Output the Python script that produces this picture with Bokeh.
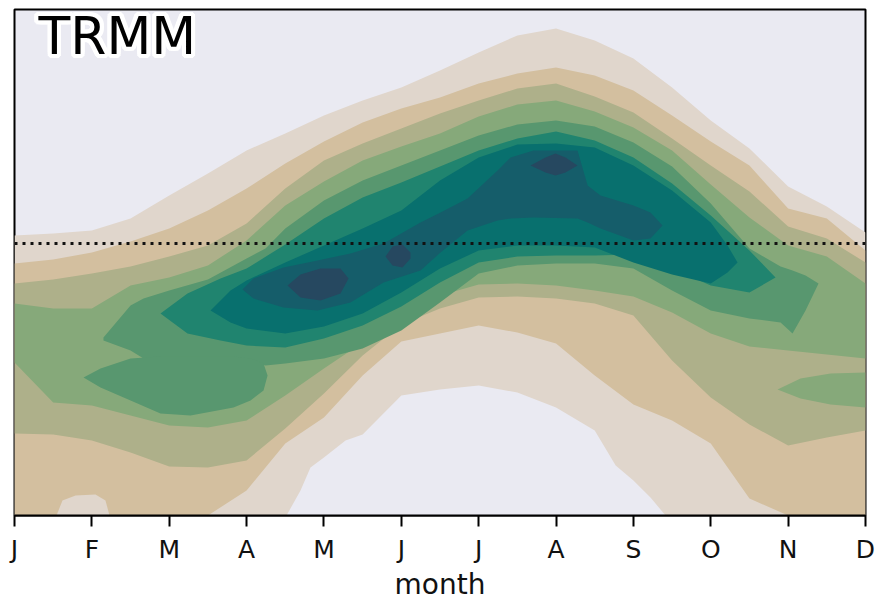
from bokeh.plotting import figure
from bokeh.models import Range1d, FixedTicker, Label, Span
from bokeh.embed import file_html
from bokeh.resources import INLINE

# ---------------- data ----------------
month_labels = ["J", "F", "M", "A", "M", "J", "J", "A", "S", "O", "N", "D"]
month_ticks = list(range(12))
grid_x = [i * 0.5 for i in range(23)]          # half-month grid, Jan..Dec

# band colours, level 0 (lowest) .. level 9 (highest)
level_colors = ["#EAEAF2", "#E0D6CC", "#D3BF9F", "#AEB08A", "#86A97A",
                "#58976F", "#20846F", "#08706E", "#155D6A", "#264860"]

# level 1 (>= light beige) on the half-month grid
lvl1_top = [28.0, 28.2, 28.5, 29.7, 32.0, 34.2, 36.5, 38.2, 40.0, 41.5, 42.8, 44.5,
            46.3, 48.0, 48.7, 47.5, 45.7, 42.8, 39.5, 36.7, 32.9, 30.9, 28.3]
lvl1_bot = [0.0] * 23

# dry dome (level 0) at the bottom
dome_x = [3.516, 3.697, 3.826, 4.0, 4.279, 4.5, 5.0, 5.5, 6.0, 6.5, 7.0, 7.5, 7.771, 8.0, 8.221, 8.415]
dome_top = [0.0, 2.5, 4.8, 5.8, 7.5, 8.1, 12.0, 12.6, 13.0, 12.3, 10.8, 8.5, 5.0, 3.5, 1.8, 0.0]

# level 2 (tan)
lvl2_top = [25.2, 25.6, 26.3, 27.4, 28.7, 30.5, 32.7, 35.2, 37.4, 39.3, 40.7, 41.8,
            43.2, 44.2, 44.8, 44.0, 42.5, 40.0, 37.4, 35.0, 30.7, 29.7, 26.5]
lvl2_bot = [0.0, 0.0, 0.0, 0.0, 0.0, 0.0, 2.5, 7.2, 9.8, 14.0, 17.4, 18.2,
            19.0, 18.3, 17.2, 14.0, 11.1, 9.5, 7.2, 1.7, 0.0, 0.0, 0.0]

# small level-1 pocket near February at the bottom
pocket_x = [0.543, 0.620, 0.789, 1.047, 1.176, 1.228]
pocket_top = [0.0, 1.5, 2.0, 2.1, 1.5, 0.0]

# level 3 (olive)
lvl3_top = [23.2, 23.6, 24.2, 24.9, 25.9, 27.0, 29.2, 32.7, 35.5, 37.2, 38.7, 40.2,
            41.5, 42.7, 43.2, 41.9, 40.3, 37.7, 35.0, 32.4, 28.9, 27.7, 25.3]
lvl3_bot = [8.2, 8.1, 7.5, 6.3, 4.9, 4.8, 5.5, 8.7, 12.2, 16.0, 19.1, 20.7,
            21.8, 21.9, 21.7, 21.2, 20.0, 15.5, 11.8, 9.1, 7.0, 7.8, 8.5]

# level 4 (sage)
lvl4_top = [21.2, 20.7, 20.7, 23.0, 23.8, 25.0, 27.5, 31.0, 33.4, 35.5, 36.9, 38.2,
            39.9, 41.1, 41.5, 40.4, 38.8, 36.5, 33.1, 29.8, 27.0, 25.9, 23.2]
lvl4_bot = [15.3, 11.3, 11.0, 10.0, 9.0, 8.8, 9.5, 12.0, 14.7, 17.3, 20.3, 22.0,
            23.1, 23.2, 23.0, 22.5, 21.9, 20.3, 18.2, 16.9, 16.5, 16.1, 15.7]
lvl4b_x = [9.863, 10.16, 10.548, 11.0]
lvl4b_top = [12.6, 13.7, 14.2, 14.3]
lvl4b_bot = [12.6, 11.7, 11.1, 10.8]

# level 5 (medium green)
lvl5_x = [1.150, 1.5, 1.668, 2.0, 2.5, 3.0, 3.245, 3.5, 4.0, 4.5, 5.0, 5.5, 6.0,
          6.5, 7.0, 7.5, 8.0, 8.5, 9.0, 9.5, 9.902, 10.057, 10.225, 10.393]
lvl5_top = [17.8, 21.0, 21.7, 22.5, 23.6, 25.7, 26.7, 28.7, 31.5, 33.5, 35.0, 36.5, 38.0,
            39.1, 39.5, 38.9, 37.3, 34.9, 31.2, 26.7, 24.9, 24.5, 24.0, 23.2]
lvl5_bot = [17.5, 16.5, 15.7, 15.7, 15.7, 15.5, 15.0, 15.2, 15.7, 16.7, 18.5, 21.3, 24.2,
            25.0, 25.2, 25.2, 24.7, 22.5, 20.5, 19.7, 19.3, 18.2, 20.5, 23.2]
lvl5b_x = [0.892, 1.112, 1.5, 1.887, 2.275, 2.831, 3.051, 3.219, 3.271]
lvl5b_top = [13.8, 14.7, 15.7, 15.9, 15.9, 15.9, 15.7, 15.2, 14.0]
lvl5b_bot = [13.8, 12.8, 11.5, 10.2, 10.0, 10.8, 11.5, 12.5, 14.0]

# level 6 (teal green)
lvl6_x = [1.887, 2.236, 2.663, 3.0, 3.5, 4.0, 4.5, 5.0, 5.5, 6.0, 6.5, 7.0,
          7.5, 8.0, 8.5, 9.0, 9.5, 9.837]
lvl6_top = [20.2, 22.2, 23.7, 24.7, 27.1, 29.7, 31.8, 33.3, 34.9, 36.5, 37.7, 38.4,
            37.5, 35.8, 33.2, 30.0, 26.5, 23.8]
lvl6_bot = [20.2, 18.2, 17.5, 17.0, 16.8, 17.7, 19.0, 20.9, 23.3, 25.3, 25.9, 26.0,
            26.0, 26.1, 24.7, 23.0, 22.3, 23.8]

# level 7 (teal)
lvl7_x = [2.534, 2.792, 3.0, 3.5, 4.0, 4.5, 5.0, 5.5, 6.0, 6.5, 7.0, 7.5,
          8.0, 8.5, 9.0, 9.217, 9.346]
lvl7_top = [20.5, 22.5, 23.5, 25.3, 27.0, 28.7, 30.5, 33.5, 35.8, 37.1, 37.2, 36.8,
            35.0, 32.5, 29.3, 27.0, 25.3]
lvl7_bot = [20.5, 19.3, 18.7, 18.2, 18.9, 20.2, 22.3, 24.7, 26.5, 27.0, 27.0, 26.8,
            25.3, 24.1, 23.2, 24.3, 25.3]

# level 8 (dark teal)
lvl8_x = [2.947, 3.089, 3.477, 3.917, 4.343, 4.770, 5.248, 5.507, 5.856, 6.244,
          6.412, 6.709, 7.278, 7.408, 7.575, 8.001, 8.221, 8.376]
lvl8_top = [22.6, 23.7, 24.8, 25.5, 26.2, 27.2, 29.3, 30.3, 31.7, 34.5,
            35.8, 36.5, 36.5, 33.0, 32.0, 31.0, 30.3, 29.0]
lvl8_bot = [22.6, 21.7, 20.8, 20.5, 21.3, 23.3, 24.5, 26.3, 28.5, 29.5,
            29.7, 29.8, 29.7, 29.3, 28.7, 27.5, 27.7, 29.0]

# level 9 (darkest) – three cores
core1_x = [3.529, 3.697, 3.956, 4.214, 4.318]
core1_top = [23.0, 24.1, 24.7, 24.7, 23.7]
core1_bot = [23.0, 21.8, 21.5, 22.2, 23.7]
core2_x = [4.796, 4.886, 5.015, 5.119]
core2_top = [25.9, 26.9, 27.1, 26.3]
core2_bot = [25.9, 25.0, 24.8, 25.7]
core3_x = [6.670, 6.864, 6.993, 7.122, 7.278]
core3_top = [35.0, 35.8, 36.2, 35.8, 35.0]
core3_bot = [35.0, 34.3, 34.0, 34.3, 35.0]

reference_line = 27.2

# ---------------- figure ----------------
FONT = "DejaVu Sans"
p = figure(width=879, height=604, output_backend="svg", toolbar_location=None,
           x_range=Range1d(0, 11), y_range=Range1d(0, 50.6),
           min_border_left=14, min_border_right=14, min_border_top=9, min_border_bottom=89)
p.background_fill_color = level_colors[0]
p.border_fill_color = "white"
p.grid.visible = False
p.yaxis.visible = False
p.outline_line_color = "black"
p.outline_line_width = 2

bands = [
    (1, grid_x, lvl1_bot, lvl1_top),
    (0, dome_x, [0.0] * len(dome_x), dome_top),
    (2, grid_x, lvl2_bot, lvl2_top),
    (1, pocket_x, [0.0] * len(pocket_x), pocket_top),
    (3, grid_x, lvl3_bot, lvl3_top),
    (4, grid_x, lvl4_bot, lvl4_top),
    (4, lvl4b_x, lvl4b_bot, lvl4b_top),
    (5, lvl5_x, lvl5_bot, lvl5_top),
    (5, lvl5b_x, lvl5b_bot, lvl5b_top),
    (6, lvl6_x, lvl6_bot, lvl6_top),
    (7, lvl7_x, lvl7_bot, lvl7_top),
    (8, lvl8_x, lvl8_bot, lvl8_top),
    (9, core1_x, core1_bot, core1_top),
    (9, core2_x, core2_bot, core2_top),
    (9, core3_x, core3_bot, core3_top),
]
for lvl, xs, lo, hi in bands:
    p.varea(x=xs, y1=lo, y2=hi, fill_color=level_colors[lvl], fill_alpha=1.0)

p.add_layout(Span(location=reference_line, dimension="width", line_color="#111111",
                  line_width=3, line_dash="3 5"))

# x axis
ax = p.xaxis[0]
ax.ticker = FixedTicker(ticks=month_ticks)
ax.major_label_overrides = {i: m for i, m in zip(month_ticks, month_labels)}
ax.minor_tick_line_color = None
ax.major_tick_out = 11
ax.major_tick_in = 0
ax.major_tick_line_width = 2
ax.major_tick_line_color = "black"
ax.axis_line_width = 2
ax.axis_line_color = "black"
ax.major_label_text_font = FONT
ax.major_label_text_font_size = "25px"
ax.major_label_text_color = "#111111"
ax.major_label_standoff = 8
ax.axis_label = "month"
ax.axis_label_text_font = FONT
ax.axis_label_text_font_size = "28px"
ax.axis_label_text_font_style = "normal"
ax.axis_label_text_color = "#111111"
ax.axis_label_standoff = 1

# panel title with a white halo
title_kw = dict(x=0.31, y=48.0, text="TRMM", text_font=FONT, text_font_size="52px",
                text_baseline="alphabetic", text_align="left")
halo = [(-4, 0), (4, 0), (0, -4), (0, 4), (-3, -3), (3, 3), (-3, 3), (3, -3),
        (-4, -2), (4, 2), (-4, 2), (4, -2), (-2, -4), (2, 4), (-2, 4), (2, -4)]
for dx, dy in halo:
    p.add_layout(Label(text_color="white", x_offset=dx, y_offset=dy, **title_kw))
p.add_layout(Label(text_color="black", **title_kw))

open("out.html", "w").write(file_html(p, INLINE))
